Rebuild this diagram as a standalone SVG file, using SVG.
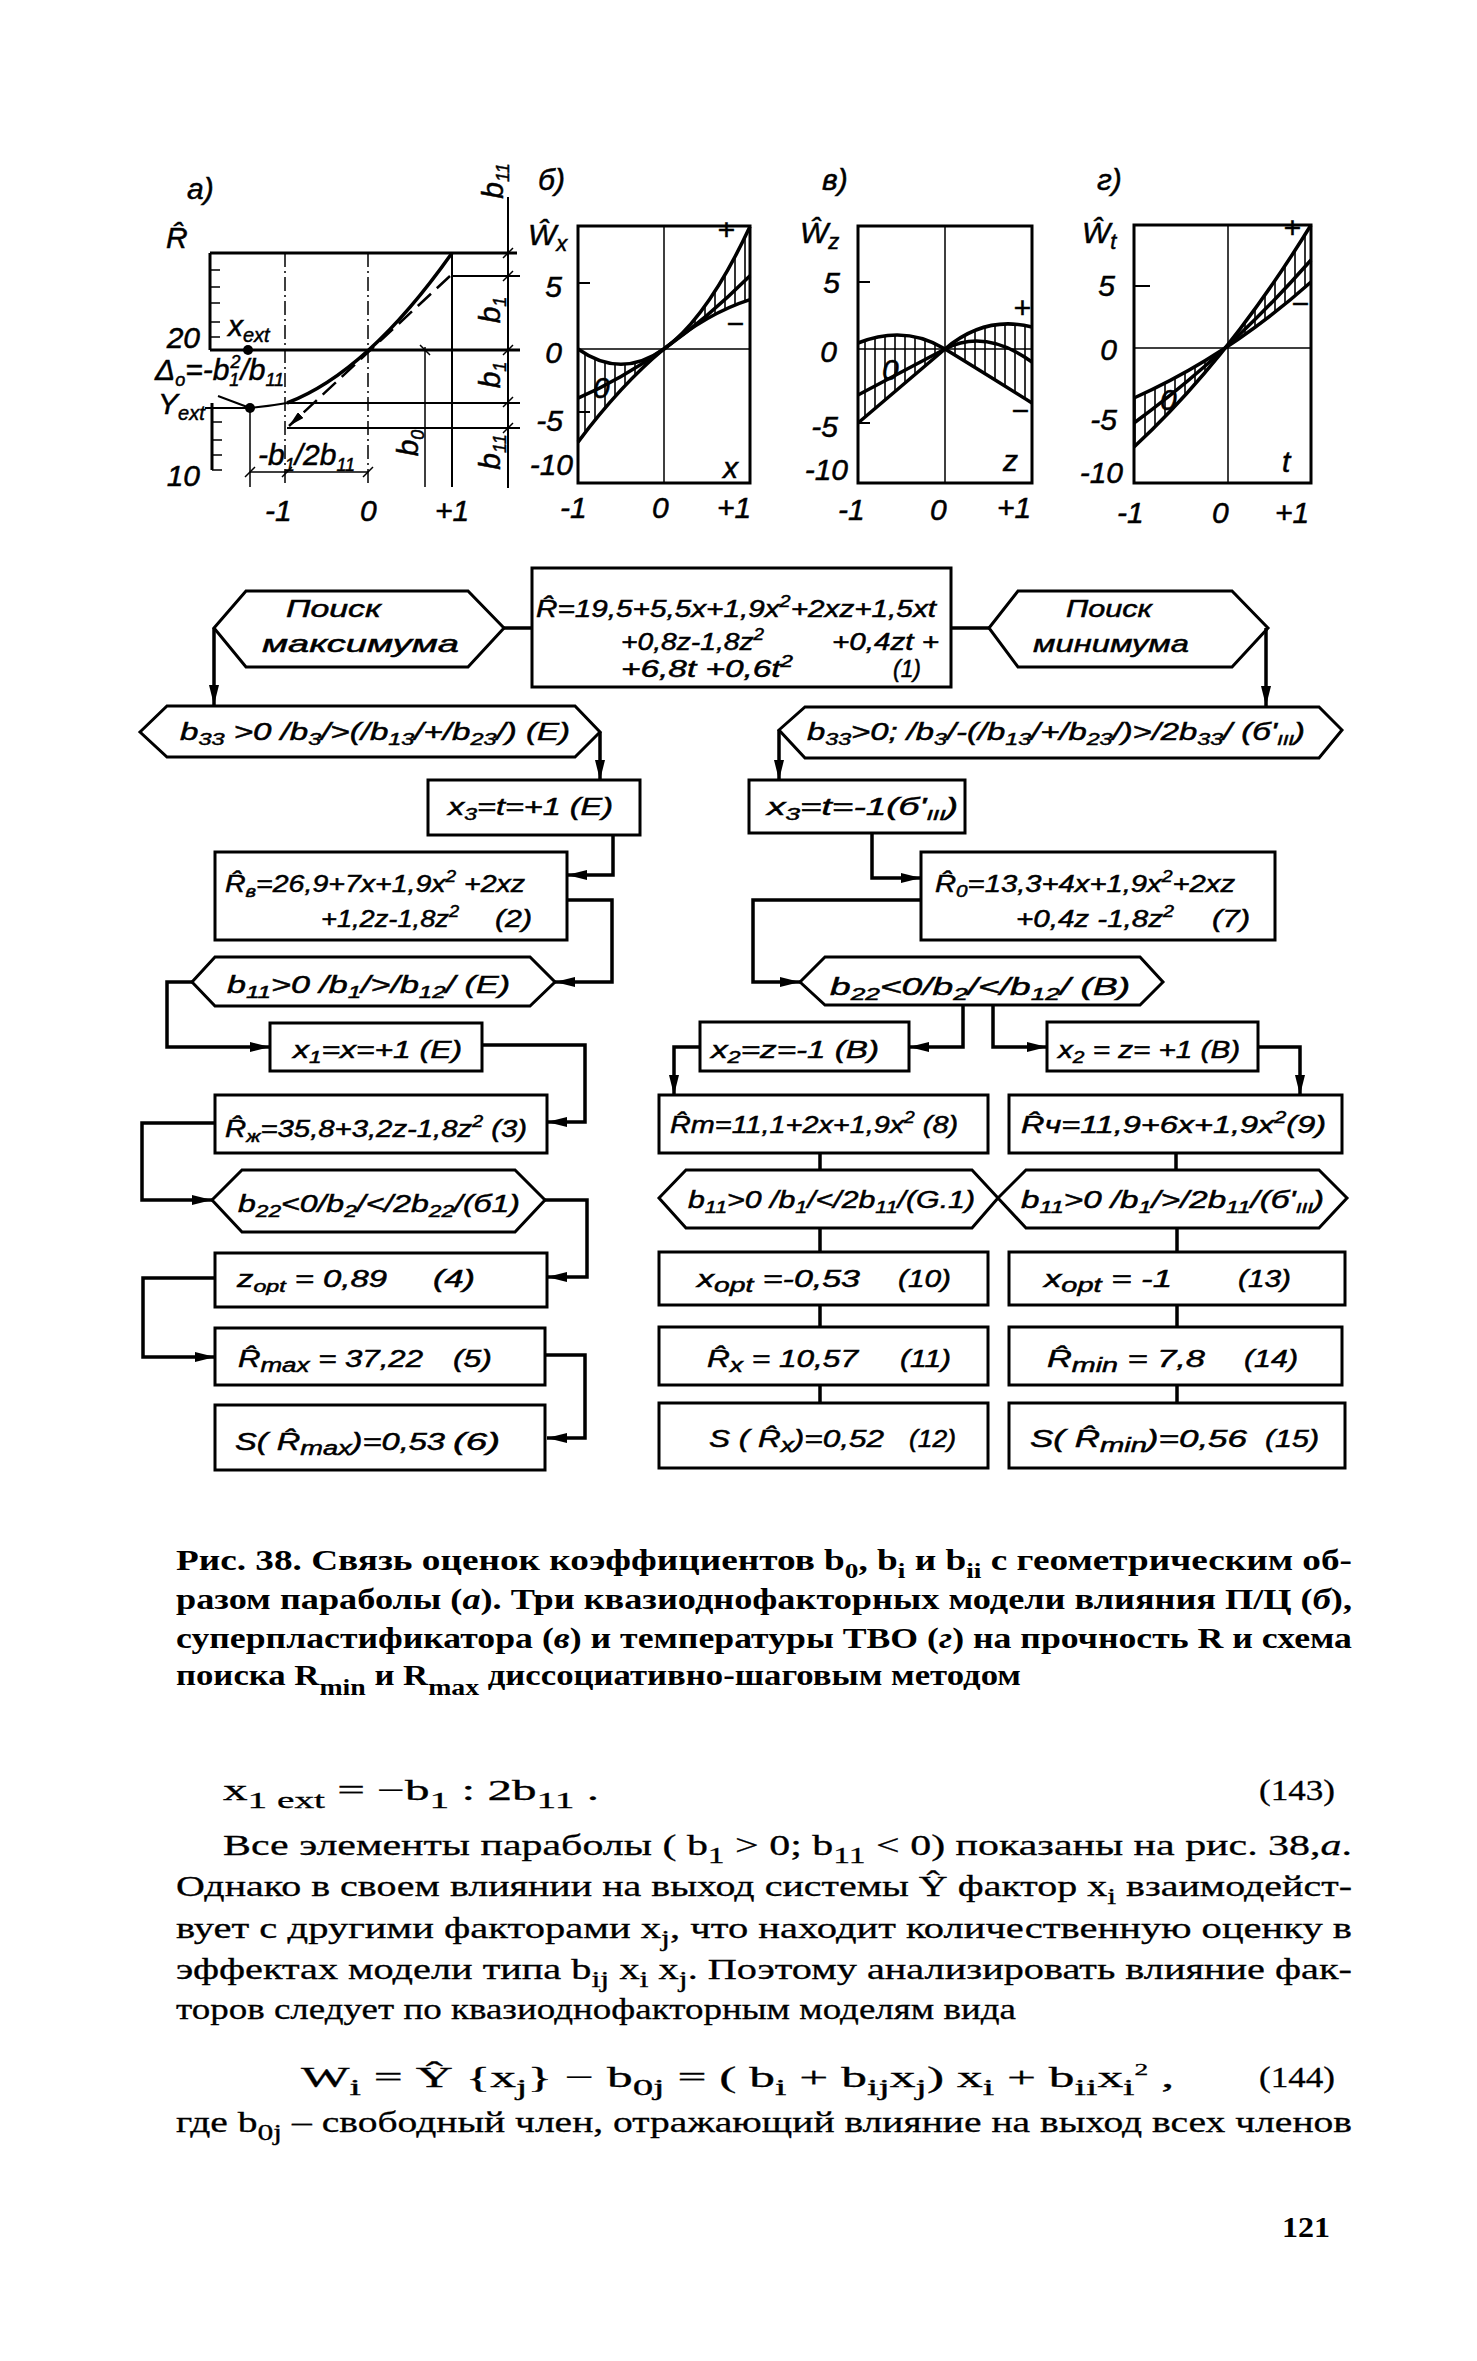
<svg xmlns="http://www.w3.org/2000/svg" width="1477" height="2361" viewBox="0 0 1477 2361">
<defs>
<style>
.bx{fill:none;stroke:#000;stroke-width:3}
.cn{fill:none;stroke:#000;stroke-width:3.5}
.ft{font-family:"Liberation Sans",Arial,sans-serif;font-style:italic;font-size:24px;fill:#000;stroke:#000;stroke-width:0.5}
.gl{font-family:"Liberation Sans",Arial,sans-serif;font-style:italic;font-size:30px;fill:#000;stroke:#000;stroke-width:0.5}
.fr{fill:none;stroke:#000;stroke-width:3}
.ax{fill:none;stroke:#000;stroke-width:1.5}
.ln{fill:none;stroke:#000;stroke-width:2}
.cv{fill:none;stroke:#000;stroke-width:3.5}
.bd{font-family:"Liberation Serif","Times New Roman",serif;font-size:30px;fill:#000;stroke:#000;stroke-width:0.3}
.cp{font-family:"Liberation Serif","Times New Roman",serif;font-size:30px;font-weight:bold;fill:#000}
</style>
<marker id="ah" markerUnits="userSpaceOnUse" markerWidth="20" markerHeight="10" refX="20" refY="5" orient="auto"><path d="M0,0 L20,5 L0,10 Z" fill="#000"/></marker>
<marker id="ahs" markerUnits="userSpaceOnUse" markerWidth="16" markerHeight="8" refX="16" refY="4" orient="auto"><path d="M0,0 L16,4 L0,8 Z" fill="#000"/></marker>
<pattern id="hatch" patternUnits="userSpaceOnUse" width="10" height="10"><path d="M5,0 V10" stroke="#000" stroke-width="1.6"/></pattern>
</defs>
<rect x="0" y="0" width="1477" height="2361" fill="#fff"/>

<!-- Graph a -->
<g id="graph-a">
<path class="fr" d="M210,253 H517 M210,253 V350 M212,403 V470 M210,350 H520"/>
<path class="ax" d="M210,270 h10 M210,287 h10 M210,303 h10 M210,322 h10 M210,337 h10 M212,422 h10 M212,440 h10 M212,455 h10 M212,470 h10"/>
<path class="ln" d="M287,403 H520 M287,428 H520 M452,276 H520 M205,408 H250"/>
<path class="ax" stroke-dasharray="14,4,2,4" d="M285,253 V487 M368,253 V487"/>
<path class="ln" d="M452,253 V487 M508,197 V488"/>
<path class="ax" d="M425,347 V487 M250,408 V487 M250,472 H368"/>
<path class="ax" d="M503,258 L513,248 M503,281 L513,271 M503,355 L513,345 M503,407 L513,397 M503,433 L513,423 M420,345 L430,355 M245,477 L255,467 M282,477 L292,467 M363,477 L373,467"/>
<path class="cv" d="M287,403 Q368,372 452,253"/>
<path class="ln" d="M250,408 Q270,406 287,403 M218,396 L250,408"/>
<path fill="none" stroke="#000" stroke-width="2.5" stroke-dasharray="18,8" marker-end="url(#ahs)" d="M450,276 L289,426"/>
<circle cx="248" cy="350" r="5"/>
<circle cx="250" cy="408" r="5"/>
<text class="gl" x="187" y="199">а)</text>
<text class="gl" x="166" y="248">R̂</text>
<text class="gl" x="200" y="348" text-anchor="end">20</text>
<text class="gl" x="228" y="336" font-size="26">x<tspan dy="6" font-size="20">ext</tspan></text>
<text class="gl" x="155" y="380" font-size="26">Δ<tspan dy="6" font-size="18">o</tspan><tspan dy="-6">=-b</tspan><tspan dy="6" font-size="18">1</tspan><tspan dy="-18" dx="-9" font-size="18">2</tspan><tspan dy="12">/b</tspan><tspan dy="6" font-size="18">11</tspan></text>
<text class="gl" x="158" y="414" font-size="26">Y<tspan dy="6" font-size="20">ext</tspan></text>
<text class="gl" x="200" y="486" text-anchor="end">10</text>
<text class="gl" x="258" y="465" font-size="26">-b<tspan dy="6" font-size="18">1</tspan><tspan dy="-6">/2b</tspan><tspan dy="6" font-size="18">11</tspan></text>
<text class="gl" x="265" y="521">-1</text>
<text class="gl" x="360" y="521">0</text>
<text class="gl" x="435" y="521">+1</text>
<text class="gl" font-size="26" text-anchor="middle" transform="translate(418,443) rotate(-90)">b<tspan dy="6" font-size="18">0</tspan></text>
<text class="gl" font-size="26" text-anchor="middle" transform="translate(503,181) rotate(-90)">b<tspan dy="6" font-size="18">11</tspan></text>
<text class="gl" font-size="26" text-anchor="middle" transform="translate(500,310) rotate(-90)">b<tspan dy="6" font-size="18">1</tspan></text>
<text class="gl" font-size="26" text-anchor="middle" transform="translate(500,375) rotate(-90)">b<tspan dy="6" font-size="18">1</tspan></text>
<text class="gl" font-size="26" text-anchor="middle" transform="translate(500,452) rotate(-90)">b<tspan dy="6" font-size="18">11</tspan></text>
</g>

<!-- Graph b -->
<g id="graph-b">
<path fill="url(#hatch)" d="M578,349 Q664,410.2 750,226.6 L750,299.7 Q664,327.1 578,442.1 Z"/>
<rect class="fr" x="578" y="226" width="172" height="257"/>
<path class="ax" d="M664,226 V483 M578,349 H750"/>
<path class="ln" d="M578,283 h12 M578,412 h12"/>
<path class="cv" d="M578,349 Q664,410.2 750,226.6"/>
<path class="cv" d="M578,442.1 Q664,327.1 750,299.7"/>
<path class="cv" stroke-width="3" d="M578,398.2 Q664,361 750,275.8"/>
<text class="gl" x="538" y="190">б)</text>
<text class="gl" x="528" y="245">Ŵ<tspan dy="6" font-size="22">x</tspan></text>
<text class="gl" x="562" y="297" text-anchor="end">5</text>
<text class="gl" x="562" y="363" text-anchor="end">0</text>
<text class="gl" x="563" y="431" text-anchor="end">-5</text>
<text class="gl" x="573" y="475" text-anchor="end">-10</text>
<text class="gl" x="560" y="518">-1</text>
<text class="gl" x="652" y="518">0</text>
<text class="gl" x="717" y="518">+1</text>
<text class="gl" x="723" y="478">x</text>
<text class="gl" x="726" y="240" text-anchor="middle">+</text>
<text class="gl" x="735" y="334" text-anchor="middle">−</text>
<text class="gl" x="593" y="398" font-size="26">0</text>
</g>

<!-- Graph v -->
<g id="graph-v">
<path fill="url(#hatch)" d="M858,423 L945,349 Q985,315 1032,327 L1032,403 Q985,373.5 945,349 Q905,324.5 858,343 Z"/>
<rect class="fr" x="858" y="226" width="174" height="257"/>
<path class="ax" d="M945,226 V483 M858,349 H1032"/>
<path class="ln" d="M858,282 h12 M858,423 h12"/>
<path class="cv" d="M858,423 L945,349 Q985,315 1032,327"/>
<path class="cv" d="M858,343 Q905,324.5 945,349 Q985,373.5 1032,403"/>
<path class="cv" stroke-width="3" d="M858,395 Q905,370 945,349 Q985,328 1032,362"/>
<text class="gl" x="822" y="190">в)</text>
<text class="gl" x="800" y="243">Ŵ<tspan dy="6" font-size="22">z</tspan></text>
<text class="gl" x="840" y="293" text-anchor="end">5</text>
<text class="gl" x="837" y="362" text-anchor="end">0</text>
<text class="gl" x="838" y="437" text-anchor="end">-5</text>
<text class="gl" x="848" y="480" text-anchor="end">-10</text>
<text class="gl" x="838" y="520">-1</text>
<text class="gl" x="930" y="520">0</text>
<text class="gl" x="997" y="518">+1</text>
<text class="gl" x="1003" y="471">z</text>
<text class="gl" x="1022" y="318" text-anchor="middle">+</text>
<text class="gl" x="1020" y="421" text-anchor="middle">−</text>
<text class="gl" x="882" y="380" font-size="26">0</text>
</g>

<!-- Graph g -->
<g id="graph-g">
<path fill="url(#hatch)" d="M1134,447 Q1228,360 1311,225 L1311,282 Q1228,356 1134,398 Z"/>
<rect class="fr" x="1134" y="225" width="177" height="258"/>
<path class="ax" d="M1228,225 V483 M1134,348 H1311"/>
<path class="ln" d="M1134,286 h16"/>
<path class="cv" d="M1134,447 Q1228,360 1311,225"/>
<path class="cv" d="M1134,398 Q1228,356 1311,282"/>
<path class="cv" stroke-width="3" d="M1134,423 Q1228,354.5 1311,260"/>
<text class="gl" x="1097" y="190">г)</text>
<text class="gl" x="1082" y="243">Ŵ<tspan dy="6" font-size="22">t</tspan></text>
<text class="gl" x="1115" y="296" text-anchor="end">5</text>
<text class="gl" x="1117" y="360" text-anchor="end">0</text>
<text class="gl" x="1117" y="430" text-anchor="end">-5</text>
<text class="gl" x="1123" y="483" text-anchor="end">-10</text>
<text class="gl" x="1117" y="523">-1</text>
<text class="gl" x="1212" y="523">0</text>
<text class="gl" x="1275" y="523">+1</text>
<text class="gl" x="1282" y="472">t</text>
<text class="gl" x="1292" y="238" text-anchor="middle">+</text>
<text class="gl" x="1300" y="314" text-anchor="middle">−</text>
<text class="gl" x="1160" y="410" font-size="26">0</text>
</g>

<!-- Connectors -->
<g id="connectors">
<path class="cn" d="M504,628 H532"/>
<path class="cn" d="M951,628 H989"/>
<path class="cn" stroke-width="2.5" marker-end="url(#ah)" d="M214,628 V705"/>
<path class="cn" stroke-width="2.5" marker-end="url(#ah)" d="M1266,628 V706"/>
<path class="cn" marker-end="url(#ah)" d="M600,732 V780"/>
<path class="cn" marker-end="url(#ah)" d="M613,835 V875 H567"/>
<path class="cn" marker-end="url(#ah)" d="M567,900 H612 V982 H555"/>
<path class="cn" marker-end="url(#ah)" d="M192,982 H167 V1047 H270"/>
<path class="cn" marker-end="url(#ah)" d="M482,1045 H585 V1122 H547"/>
<path class="cn" marker-end="url(#ah)" d="M215,1123 H142 V1200 H212"/>
<path class="cn" marker-end="url(#ah)" d="M545,1200 H587 V1277 H547"/>
<path class="cn" marker-end="url(#ah)" d="M215,1278 H143 V1357 H215"/>
<path class="cn" marker-end="url(#ah)" d="M545,1355 H585 V1438 H547"/>
<path class="cn" marker-end="url(#ah)" d="M779,730 V780"/>
<path class="cn" marker-end="url(#ah)" d="M872,833 V878 H921"/>
<path class="cn" marker-end="url(#ah)" d="M921,900 H753 V982 H800"/>
<path class="cn" marker-end="url(#ah)" d="M963,1005 V1047 H909"/>
<path class="cn" marker-end="url(#ah)" d="M993,1005 V1047 H1047"/>
<path class="cn" marker-end="url(#ah)" d="M700,1047 H674 V1095"/>
<path class="cn" marker-end="url(#ah)" d="M1258,1047 H1300 V1095"/>
<path class="cn" d="M820,1153 V1170 M1176,1153 V1170 M820,1228 V1252 M1177,1228 V1252 M820,1305 V1327 M1177,1305 V1327 M820,1385 V1403 M1177,1385 V1403"/>
</g>

<!-- Nodes -->
<g id="n-main">
<rect class="bx" x="532" y="568" width="419" height="119"/>
<text class="ft" x="536" y="617" textLength="400" lengthAdjust="spacingAndGlyphs">R̂=19,5+5,5x+1,9x<tspan dy="-10" font-size="16">2</tspan><tspan dy="10">+2xz+1,5xt</tspan></text>
<text class="ft" x="621" y="650" textLength="143" lengthAdjust="spacingAndGlyphs">+0,8z-1,8z<tspan dy="-10" font-size="16">2</tspan></text>
<text class="ft" x="832" y="650" textLength="107" lengthAdjust="spacingAndGlyphs">+0,4zt +</text>
<text class="ft" x="621" y="677" textLength="172" lengthAdjust="spacingAndGlyphs">+6,8t +0,6t<tspan dy="-10" font-size="16">2</tspan></text>
<text class="ft" x="893" y="677" textLength="28" lengthAdjust="spacingAndGlyphs">(1)</text>
</g>
<g id="n-max">
<polygon class="bx" points="214,628 246,591 468,591 504,628 468,667 246,667"/>
<text class="ft" x="286" y="617" textLength="95" lengthAdjust="spacingAndGlyphs">Поиск</text>
<text class="ft" x="262" y="652" textLength="197" lengthAdjust="spacingAndGlyphs">максимума</text>
</g>
<g id="n-min">
<polygon class="bx" points="989,628 1018,591 1232,591 1268,628 1232,667 1018,667"/>
<text class="ft" x="1066" y="617" textLength="86" lengthAdjust="spacingAndGlyphs">Поиск</text>
<text class="ft" x="1033" y="652" textLength="156" lengthAdjust="spacingAndGlyphs">минимума</text>
</g>
<g id="n-c1">
<polygon class="bx" points="140,732 167,706 575,706 600,732 575,757 167,757"/>
<text class="ft" x="180" y="740" textLength="390" lengthAdjust="spacingAndGlyphs">b<tspan dy="5" font-size="17">33</tspan><tspan dy="-5"> &gt;0 /b</tspan><tspan dy="5" font-size="17">3</tspan><tspan dy="-5">/&gt;(/b</tspan><tspan dy="5" font-size="17">13</tspan><tspan dy="-5">/+/b</tspan><tspan dy="5" font-size="17">23</tspan><tspan dy="-5">/) (E)</tspan></text>
</g>
<g id="n-x3p">
<rect class="bx" x="428" y="780" width="212" height="55"/>
<text class="ft" x="448" y="815" textLength="165" lengthAdjust="spacingAndGlyphs">x<tspan dy="5" font-size="17">3</tspan><tspan dy="-5">=t=+1 (E)</tspan></text>
</g>
<g id="n-rv">
<rect class="bx" x="215" y="852" width="352" height="88"/>
<text class="ft" x="225" y="892" textLength="300" lengthAdjust="spacingAndGlyphs">R̂<tspan dy="5" font-size="17">в</tspan><tspan dy="-5">=26,9+7x+1,9x</tspan><tspan dy="-10" font-size="16">2</tspan><tspan dy="10"> +2xz</tspan></text>
<text class="ft" x="321" y="927" textLength="138" lengthAdjust="spacingAndGlyphs">+1,2z-1,8z<tspan dy="-10" font-size="16">2</tspan></text>
<text class="ft" x="495" y="927" textLength="37" lengthAdjust="spacingAndGlyphs">(2)</text>
</g>
<g id="n-c2">
<polygon class="bx" points="192,982 215,957 530,957 555,982 530,1006 215,1006"/>
<text class="ft" x="227" y="993" textLength="283" lengthAdjust="spacingAndGlyphs">b<tspan dy="5" font-size="17">11</tspan><tspan dy="-5">&gt;0 /b</tspan><tspan dy="5" font-size="17">1</tspan><tspan dy="-5">/&gt;/b</tspan><tspan dy="5" font-size="17">12</tspan><tspan dy="-5">/  (E)</tspan></text>
</g>
<g id="n-x1">
<rect class="bx" x="270" y="1023" width="212" height="48"/>
<text class="ft" x="293" y="1058" textLength="169" lengthAdjust="spacingAndGlyphs">x<tspan dy="5" font-size="17">1</tspan><tspan dy="-5">=x=+1 (E)</tspan></text>
</g>
<g id="n-rzh">
<rect class="bx" x="215" y="1095" width="332" height="58"/>
<text class="ft" x="225" y="1137" textLength="302" lengthAdjust="spacingAndGlyphs">R̂<tspan dy="5" font-size="17">ж</tspan><tspan dy="-5">=35,8+3,2z-1,8z</tspan><tspan dy="-10" font-size="16">2</tspan><tspan dy="10">  (3)</tspan></text>
</g>
<g id="n-c3">
<polygon class="bx" points="212,1200 242,1170 515,1170 545,1200 515,1232 242,1232"/>
<text class="ft" x="238" y="1212" textLength="282" lengthAdjust="spacingAndGlyphs">b<tspan dy="5" font-size="17">22</tspan><tspan dy="-5">&lt;0/b</tspan><tspan dy="5" font-size="17">2</tspan><tspan dy="-5">/&lt;/2b</tspan><tspan dy="5" font-size="17">22</tspan><tspan dy="-5">/(б1)</tspan></text>
</g>
<g id="n-zopt">
<rect class="bx" x="215" y="1253" width="332" height="54"/>
<text class="ft" x="237" y="1287" textLength="150" lengthAdjust="spacingAndGlyphs">z<tspan dy="5" font-size="17">opt</tspan><tspan dy="-5"> = 0,89</tspan></text>
<text class="ft" x="433" y="1287" textLength="42" lengthAdjust="spacingAndGlyphs">(4)</text>
</g>
<g id="n-rmax">
<rect class="bx" x="215" y="1328" width="330" height="57"/>
<text class="ft" x="238" y="1367" textLength="185" lengthAdjust="spacingAndGlyphs">R̂<tspan dy="5" font-size="20">max</tspan><tspan dy="-5"> = 37,22</tspan></text>
<text class="ft" x="453" y="1367" textLength="39" lengthAdjust="spacingAndGlyphs">(5)</text>
</g>
<g id="n-smax">
<rect class="bx" x="215" y="1405" width="330" height="65"/>
<text class="ft" x="235" y="1450" textLength="210" lengthAdjust="spacingAndGlyphs">S( R̂<tspan dy="5" font-size="20">max</tspan><tspan dy="-5">)=0,53</tspan></text>
<text class="ft" x="453" y="1450" textLength="47" lengthAdjust="spacingAndGlyphs">(6)</text>
</g>

<g id="n-c4">
<polygon class="bx" points="779,730 805,707 1319,707 1342,730 1319,758 805,758"/>
<text class="ft" x="807" y="740" textLength="498" lengthAdjust="spacingAndGlyphs">b<tspan dy="5" font-size="17">33</tspan><tspan dy="-5">&gt;0; /b</tspan><tspan dy="5" font-size="17">3</tspan><tspan dy="-5">/-(/b</tspan><tspan dy="5" font-size="17">13</tspan><tspan dy="-5">/+/b</tspan><tspan dy="5" font-size="17">23</tspan><tspan dy="-5">/)&gt;/2b</tspan><tspan dy="5" font-size="17">33</tspan><tspan dy="-5">/ (б'</tspan><tspan dy="5" font-size="15">III</tspan><tspan dy="-5">)</tspan></text>
</g>
<g id="n-x3m">
<rect class="bx" x="749" y="780" width="216" height="53"/>
<text class="ft" x="767" y="815" textLength="191" lengthAdjust="spacingAndGlyphs">x<tspan dy="5" font-size="17">3</tspan><tspan dy="-5">=t=-1(б'</tspan><tspan dy="5" font-size="15">III</tspan><tspan dy="-5">)</tspan></text>
</g>
<g id="n-r0">
<rect class="bx" x="921" y="852" width="354" height="88"/>
<text class="ft" x="935" y="892" textLength="300" lengthAdjust="spacingAndGlyphs">R̂<tspan dy="5" font-size="17">0</tspan><tspan dy="-5">=13,3+4x+1,9x</tspan><tspan dy="-10" font-size="16">2</tspan><tspan dy="10">+2xz</tspan></text>
<text class="ft" x="1016" y="927" textLength="158" lengthAdjust="spacingAndGlyphs">+0,4z -1,8z<tspan dy="-10" font-size="16">2</tspan></text>
<text class="ft" x="1212" y="927" textLength="38" lengthAdjust="spacingAndGlyphs">(7)</text>
</g>
<g id="n-c5">
<polygon class="bx" points="800,982 825,957 1140,957 1163,982 1140,1005 825,1005"/>
<text class="ft" x="830" y="995" textLength="300" lengthAdjust="spacingAndGlyphs">b<tspan dy="5" font-size="17">22</tspan><tspan dy="-5">&lt;0/b</tspan><tspan dy="5" font-size="17">2</tspan><tspan dy="-5">/&lt;/b</tspan><tspan dy="5" font-size="17">12</tspan><tspan dy="-5">/  (B)</tspan></text>
</g>
<g id="n-x2m">
<rect class="bx" x="700" y="1022" width="209" height="49"/>
<text class="ft" x="711" y="1058" textLength="168" lengthAdjust="spacingAndGlyphs">x<tspan dy="5" font-size="17">2</tspan><tspan dy="-5">=z=-1 (B)</tspan></text>
</g>
<g id="n-x2p">
<rect class="bx" x="1047" y="1022" width="211" height="49"/>
<text class="ft" x="1058" y="1058" textLength="182" lengthAdjust="spacingAndGlyphs">x<tspan dy="5" font-size="17">2</tspan><tspan dy="-5"> = z= +1 (B)</tspan></text>
</g>
<g id="n-rt">
<rect class="bx" x="659" y="1095" width="329" height="58"/>
<text class="ft" x="670" y="1133" textLength="288" lengthAdjust="spacingAndGlyphs">R̂т=11,1+2x+1,9x<tspan dy="-10" font-size="16">2</tspan><tspan dy="10"> (8)</tspan></text>
</g>
<g id="n-rch">
<rect class="bx" x="1009" y="1095" width="333" height="58"/>
<text class="ft" x="1021" y="1133" textLength="305" lengthAdjust="spacingAndGlyphs">R̂ч=11,9+6x+1,9x<tspan dy="-10" font-size="16">2</tspan><tspan dy="10">(9)</tspan></text>
</g>
<g id="n-c6">
<polygon class="bx" points="659,1198 686,1170 972,1170 998,1198 972,1228 686,1228"/>
<text class="ft" x="688" y="1208" textLength="287" lengthAdjust="spacingAndGlyphs">b<tspan dy="5" font-size="17">11</tspan><tspan dy="-5">&gt;0 /b</tspan><tspan dy="5" font-size="17">1</tspan><tspan dy="-5">/&lt;/2b</tspan><tspan dy="5" font-size="17">11</tspan><tspan dy="-5">/(G.1)</tspan></text>
</g>
<g id="n-c7">
<polygon class="bx" points="998,1198 1026,1170 1319,1170 1347,1198 1319,1228 1026,1228"/>
<text class="ft" x="1021" y="1208" textLength="303" lengthAdjust="spacingAndGlyphs">b<tspan dy="5" font-size="17">11</tspan><tspan dy="-5">&gt;0 /b</tspan><tspan dy="5" font-size="17">1</tspan><tspan dy="-5">/&gt;/2b</tspan><tspan dy="5" font-size="17">11</tspan><tspan dy="-5">/(б'</tspan><tspan dy="5" font-size="15">III</tspan><tspan dy="-5">)</tspan></text>
</g>
<g id="n-xopt10">
<rect class="bx" x="659" y="1252" width="329" height="53"/>
<text class="ft" x="697" y="1287" textLength="163" lengthAdjust="spacingAndGlyphs">x<tspan dy="5" font-size="20">opt</tspan><tspan dy="-5"> =-0,53</tspan></text>
<text class="ft" x="898" y="1287" textLength="53" lengthAdjust="spacingAndGlyphs">(10)</text>
</g>
<g id="n-xopt13">
<rect class="bx" x="1009" y="1252" width="336" height="53"/>
<text class="ft" x="1044" y="1287" textLength="128" lengthAdjust="spacingAndGlyphs">x<tspan dy="5" font-size="20">opt</tspan><tspan dy="-5"> = -1</tspan></text>
<text class="ft" x="1238" y="1287" textLength="53" lengthAdjust="spacingAndGlyphs">(13)</text>
</g>
<g id="n-rx">
<rect class="bx" x="659" y="1327" width="329" height="58"/>
<text class="ft" x="707" y="1367" textLength="151" lengthAdjust="spacingAndGlyphs">R̂<tspan dy="5" font-size="20">x</tspan><tspan dy="-5"> = 10,57</tspan></text>
<text class="ft" x="900" y="1367" textLength="51" lengthAdjust="spacingAndGlyphs">(11)</text>
</g>
<g id="n-rmin">
<rect class="bx" x="1009" y="1327" width="333" height="58"/>
<text class="ft" x="1047" y="1367" textLength="158" lengthAdjust="spacingAndGlyphs">R̂<tspan dy="5" font-size="20">min</tspan><tspan dy="-5"> = 7,8</tspan></text>
<text class="ft" x="1244" y="1367" textLength="54" lengthAdjust="spacingAndGlyphs">(14)</text>
</g>
<g id="n-sx">
<rect class="bx" x="659" y="1403" width="329" height="65"/>
<text class="ft" x="709" y="1447" textLength="175" lengthAdjust="spacingAndGlyphs">S ( R̂<tspan dy="5" font-size="20">x</tspan><tspan dy="-5">)=0,52</tspan></text>
<text class="ft" x="909" y="1447" textLength="47" lengthAdjust="spacingAndGlyphs">(12)</text>
</g>
<g id="n-smin">
<rect class="bx" x="1009" y="1403" width="336" height="65"/>
<text class="ft" x="1030" y="1447" textLength="217" lengthAdjust="spacingAndGlyphs">S( R̂<tspan dy="5" font-size="20">min</tspan><tspan dy="-5">)=0,56</tspan></text>
<text class="ft" x="1265" y="1447" textLength="54" lengthAdjust="spacingAndGlyphs">(15)</text>
</g>

<!-- Caption -->
<g id="caption">
<text class="cp" x="176" y="1570" textLength="1176" lengthAdjust="spacingAndGlyphs">Рис. 38. Связь оценок коэффициентов b<tspan dy="8" font-size="22">0</tspan><tspan dy="-8">, b</tspan><tspan dy="8" font-size="22">i</tspan><tspan dy="-8"> и b</tspan><tspan dy="8" font-size="22">ii</tspan><tspan dy="-8"> с  геометрическим об-</tspan></text>
<text class="cp" x="176" y="1609" textLength="1176" lengthAdjust="spacingAndGlyphs">разом параболы (<tspan font-style="italic">а</tspan>). Три квазиоднофакторных модели влияния П/Ц (<tspan font-style="italic">б</tspan>),</text>
<text class="cp" x="176" y="1648" textLength="1176" lengthAdjust="spacingAndGlyphs">суперпластификатора (<tspan font-style="italic">в</tspan>) и температуры ТВО (<tspan font-style="italic">г</tspan>) на прочность R и схема</text>
<text class="cp" x="176" y="1685" textLength="845" lengthAdjust="spacingAndGlyphs">поиска R<tspan dy="10" font-size="24">min</tspan><tspan dy="-10"> и R</tspan><tspan dy="10" font-size="24">max</tspan><tspan dy="-10"> диссоциативно-шаговым методом</tspan></text>
</g>

<!-- Body text -->
<g id="body">
<text class="bd" x="223" y="1800" textLength="376" lengthAdjust="spacingAndGlyphs">x<tspan dy="8" font-size="24">1 ext</tspan><tspan dy="-8"> = −b</tspan><tspan dy="8" font-size="24">1</tspan><tspan dy="-8"> : 2b</tspan><tspan dy="8" font-size="24">11</tspan><tspan dy="-8"> .</tspan></text>
<text class="bd" x="1259" y="1800" textLength="76" lengthAdjust="spacingAndGlyphs">(143)</text>
<text class="bd" x="223" y="1855" textLength="1129" lengthAdjust="spacingAndGlyphs">Все элементы параболы ( b<tspan dy="8" font-size="24">1</tspan><tspan dy="-8"> &gt;  0; b</tspan><tspan dy="8" font-size="24">11</tspan><tspan dy="-8"> &lt; 0) показаны на рис. 38,</tspan><tspan font-style="italic">а</tspan>.</text>
<text class="bd" x="176" y="1896" textLength="1176" lengthAdjust="spacingAndGlyphs">Однако в своем влиянии на выход системы  Ŷ фактор x<tspan dy="8" font-size="24">i</tspan><tspan dy="-8"> взаимодейст-</tspan></text>
<text class="bd" x="176" y="1938" textLength="1176" lengthAdjust="spacingAndGlyphs">вует с другими факторами x<tspan dy="8" font-size="24">j</tspan><tspan dy="-8">, что находит количественную оценку в</tspan></text>
<text class="bd" x="176" y="1979" textLength="1176" lengthAdjust="spacingAndGlyphs">эффектах модели типа b<tspan dy="8" font-size="24">ij</tspan><tspan dy="-8"> x</tspan><tspan dy="8" font-size="24">i</tspan><tspan dy="-8"> x</tspan><tspan dy="8" font-size="24">j</tspan><tspan dy="-8">. Поэтому анализировать влияние фак-</tspan></text>
<text class="bd" x="176" y="2019" textLength="840" lengthAdjust="spacingAndGlyphs">торов следует по квазиоднофакторным моделям вида</text>
<text class="bd" x="301" y="2087" textLength="873" lengthAdjust="spacingAndGlyphs">W<tspan dy="8" font-size="24">i</tspan><tspan dy="-8"> = Ŷ {x</tspan><tspan dy="8" font-size="24">j</tspan><tspan dy="-8">} − b</tspan><tspan dy="8" font-size="24">0j</tspan><tspan dy="-8"> = ( b</tspan><tspan dy="8" font-size="24">i</tspan><tspan dy="-8"> + b</tspan><tspan dy="8" font-size="24">ij</tspan><tspan dy="-8">x</tspan><tspan dy="8" font-size="24">j</tspan><tspan dy="-8">) x</tspan><tspan dy="8" font-size="24">i</tspan><tspan dy="-8"> + b</tspan><tspan dy="8" font-size="24">ii</tspan><tspan dy="-8">x</tspan><tspan dy="8" font-size="24">i</tspan><tspan dy="-20" font-size="16">2</tspan><tspan dy="12"> ,</tspan></text>
<text class="bd" x="1259" y="2087" textLength="76" lengthAdjust="spacingAndGlyphs">(144)</text>
<text class="bd" x="176" y="2132" textLength="1176" lengthAdjust="spacingAndGlyphs">где b<tspan dy="8" font-size="24">0j</tspan><tspan dy="-8"> – свободный член, отражающий влияние на выход всех членов</tspan></text>
<text class="cp" x="1282" y="2237" font-size="32" textLength="48" lengthAdjust="spacingAndGlyphs">121</text>
</g>
</svg>
